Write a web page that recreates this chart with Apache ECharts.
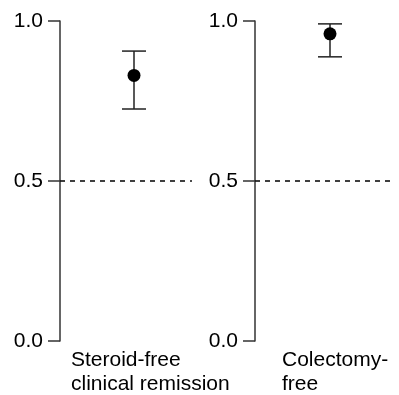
<!DOCTYPE html>
<html>
<head>
<meta charset="utf-8">
<script src="https://cdn.jsdelivr.net/npm/echarts@6/dist/echarts.min.js"></script>
<style>
html,body{margin:0;padding:0;background:#fff;}
#chart{width:399px;height:395px;}
</style>
</head>
<body>
<div id="chart"></div>
<script>
const categories = ['Steroid-free\nclinical remission', 'Colectomy-\nfree'];
const estimates = [0.83, 0.96];
const lowerCI = [0.725, 0.888];
const upperCI = [0.906, 0.991];
const yTickLabels = ['0.0', '0.5', '1.0'];
const referenceValue = 0.5;

const FONT = 'Liberation Sans, Arial, sans-serif';
const grids = [
  {left: 60, top: 21, width: 132, height: 320},
  {left: 255, top: 21, width: 140, height: 320}
];
const labelLeft = [71, 282];
const pointShift = [8, 5];

const chart = echarts.init(document.getElementById('chart'), null, {renderer: 'canvas'});

const option = {
  backgroundColor: '#fff',
  animation: false,
  grid: grids,
  title: categories.map((c, i) => ({
    text: c,
    left: labelLeft[i],
    top: 348,
    padding: 0,
    textStyle: {fontFamily: FONT, fontSize: 21, fontWeight: 'normal', color: '#000', lineHeight: 24}
  })),
  xAxis: categories.map((c, i) => ({
    type: 'category', gridIndex: i, data: [c], show: false, boundaryGap: true
  })),
  yAxis: categories.map((c, i) => ({
    type: 'value', gridIndex: i, min: 0, max: 1, interval: 0.5,
    axisLine: {show: true, lineStyle: {color: '#333', width: 1.5}},
    axisTick: {show: true, length: 12, lineStyle: {color: '#333', width: 1.5}},
    splitLine: {show: false},
    axisLabel: {
      fontFamily: FONT, fontSize: 21, color: '#000', margin: 17,
      formatter: v => yTickLabels[Math.round(v / 0.5)]
    }
  })),
  series: categories.map((c, i) => ({
    type: 'custom',
    xAxisIndex: i, yAxisIndex: i,
    data: [[0, estimates[i], lowerCI[i], upperCI[i]]],
    encode: {x: 0, y: [1, 2, 3]},
    renderItem: function (params, api) {
      const x = api.value(0);
      const p = api.coord([x, api.value(1)]);
      const lo = api.coord([x, api.value(2)]);
      const hi = api.coord([x, api.value(3)]);
      const cx = p[0] + pointShift[i];
      const cap = 12;
      const st = {stroke: '#222', lineWidth: 1.5};
      return {
        type: 'group',
        children: [
          {type: 'line', shape: {x1: cx, y1: hi[1], x2: cx, y2: lo[1]}, style: st},
          {type: 'line', shape: {x1: cx - cap, y1: hi[1], x2: cx + cap, y2: hi[1]}, style: st},
          {type: 'line', shape: {x1: cx - cap, y1: lo[1], x2: cx + cap, y2: lo[1]}, style: st},
          {type: 'circle', shape: {cx: cx, cy: p[1], r: 6.5}, style: {fill: '#000'}}
        ]
      };
    },
    markLine: {
      silent: true,
      symbol: ['none', 'none'],
      label: {show: false},
      lineStyle: {type: [5, 5], color: '#111', width: 1.6},
      data: [{yAxis: referenceValue}]
    }
  }))
};
chart.setOption(option);
</script>
</body>
</html>
